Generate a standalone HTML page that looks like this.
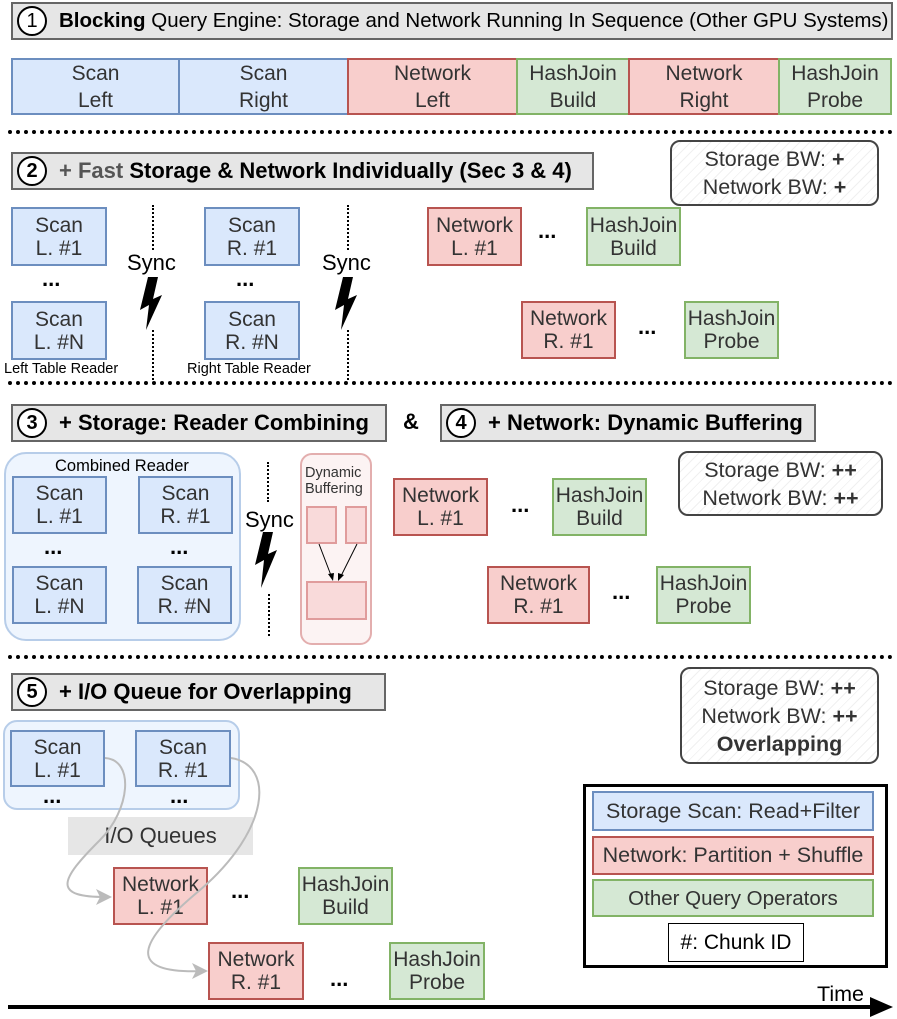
<!DOCTYPE html>
<html><head><meta charset="utf-8"><style>
*{margin:0;padding:0;box-sizing:border-box}
body{width:897px;height:1019px;background:#fff;position:relative;overflow:hidden;font-family:"Liberation Sans",Arial,sans-serif;color:#333}
.b{position:absolute;display:flex;align-items:center;justify-content:center;text-align:center;font-size:21px;line-height:23px;border:2px solid;white-space:nowrap}
.bl{background:#dae8fc;border-color:#6c8ebf}
.rd{background:#f8cecc;border-color:#b85450}
.gr{background:#d5e8d4;border-color:#82b366}
.h{position:absolute;background:#e6e6e6;border:2px solid #666;font-size:22px;font-weight:bold;color:#000;display:flex;align-items:center;padding-left:46px;white-space:nowrap}
.c{position:absolute;left:4px;top:2px;width:30px;height:30px;border:2px solid #000;border-radius:50%;background:#fff;display:flex;align-items:center;justify-content:center;font-size:20px}
.t{position:absolute;white-space:nowrap}
.dots{position:absolute;font-weight:bold;font-size:22px;color:#000}
.hl{position:absolute;left:8px;width:885px;border-top:4px dotted #000}
.sk{position:absolute;border:2px solid #444;border-radius:10px;background:repeating-linear-gradient(135deg,#fff 0 6px,#f0f0f0 6px 7px);font-size:21.5px;line-height:28px;text-align:center;display:flex;flex-direction:column;justify-content:center;white-space:nowrap}
.vd{position:absolute;border-left:2px dotted #000;width:0}
</style></head><body>

<div class="h" style="left:11px;top:2px;width:882px;height:38px;font-weight:normal;font-size:20.5px"><div class="c">1</div><b>Blocking</b>&nbsp;Query Engine: Storage and Network Running In Sequence (Other GPU Systems)</div>

<div class="b bl" style="left:11px;top:58px;width:169px;height:57px;line-height:27px">Scan<br>Left</div>
<div class="b bl" style="left:178px;top:58px;width:171px;height:57px;line-height:27px">Scan<br>Right</div>
<div class="b rd" style="left:347px;top:58px;width:171px;height:57px;line-height:27px">Network<br>Left</div>
<div class="b gr" style="left:516px;top:58px;width:114px;height:57px;line-height:27px">HashJoin<br>Build</div>
<div class="b rd" style="left:628px;top:58px;width:152px;height:57px;line-height:27px">Network<br>Right</div>
<div class="b gr" style="left:778px;top:58px;width:114px;height:57px;line-height:27px">HashJoin<br>Probe</div>

<div class="hl" style="top:130px"></div>

<div class="h" style="left:11px;top:152px;width:583px;height:38px"><div class="c">2</div><span style="color:#555">+ Fast</span>&nbsp;Storage &amp; Network Individually (Sec 3 &amp; 4)</div>
<div class="sk" style="left:670px;top:140px;width:209px;height:66px"><div>Storage BW: <b>+</b></div><div>Network BW: <b>+</b></div></div>

<div class="b bl" style="left:11px;top:207px;width:96px;height:59px">Scan<br>L. #1</div>
<div class="dots" style="left:42px;top:266px">...</div>
<div class="b bl" style="left:11px;top:301px;width:96px;height:59px">Scan<br>L. #N</div>
<div class="t" style="left:4px;top:361px;font-size:14.5px;color:#000">Left Table Reader</div>
<div class="vd" style="left:152px;top:205px;height:45px"></div>
<div class="vd" style="left:152px;top:330px;height:50px"></div>
<div class="t" style="left:127px;top:250px;font-size:22px;color:#000">Sync</div>

<div class="b bl" style="left:204px;top:207px;width:96px;height:59px">Scan<br>R. #1</div>
<div class="dots" style="left:236px;top:266px">...</div>
<div class="b bl" style="left:204px;top:301px;width:96px;height:59px">Scan<br>R. #N</div>
<div class="t" style="left:187px;top:361px;font-size:14.5px;color:#000">Right Table Reader</div>
<div class="vd" style="left:347px;top:205px;height:45px"></div>
<div class="vd" style="left:347px;top:330px;height:50px"></div>
<div class="t" style="left:322px;top:250px;font-size:22px;color:#000">Sync</div>

<div class="b rd" style="left:427px;top:207px;width:95px;height:59px">Network<br>L. #1</div>
<div class="dots" style="left:538px;top:218px">...</div>
<div class="b gr" style="left:586px;top:207px;width:95px;height:59px">HashJoin<br>Build</div>
<div class="b rd" style="left:521px;top:301px;width:95px;height:58px">Network<br>R. #1</div>
<div class="dots" style="left:638px;top:314px">...</div>
<div class="b gr" style="left:684px;top:301px;width:95px;height:58px">HashJoin<br>Probe</div>

<div class="hl" style="top:381px"></div>

<div class="h" style="left:11px;top:404px;width:376px;height:38px"><div class="c">3</div>+ Storage: Reader Combining</div>
<div class="t" style="left:403px;top:409px;font-size:22px;font-weight:bold;color:#000">&amp;</div>
<div class="h" style="left:440px;top:404px;width:376px;height:38px"><div class="c">4</div>+ Network: Dynamic Buffering</div>

<div style="position:absolute;left:4px;top:452px;width:237px;height:189px;background:#eef5fe;border:2px solid #b7cde9;border-radius:22px"></div>
<div class="t" style="left:55px;top:457px;font-size:16.5px;color:#000">Combined Reader</div>
<div class="b bl" style="left:12px;top:476px;width:95px;height:58px">Scan<br>L. #1</div>
<div class="b bl" style="left:138px;top:476px;width:95px;height:58px">Scan<br>R. #1</div>
<div class="dots" style="left:44px;top:534px">...</div>
<div class="dots" style="left:170px;top:534px">...</div>
<div class="b bl" style="left:12px;top:566px;width:95px;height:58px">Scan<br>L. #N</div>
<div class="b bl" style="left:137px;top:566px;width:95px;height:58px">Scan<br>R. #N</div>
<div class="vd" style="left:267px;top:462px;height:40px"></div>
<div class="vd" style="left:268px;top:594px;height:42px"></div>
<div class="t" style="left:245px;top:507px;font-size:22px;color:#000">Sync</div>

<div style="position:absolute;left:300px;top:453px;width:72px;height:192px;background:#fcf3f3;border:2px solid #e3aeae;border-radius:12px"></div>
<div class="t" style="left:305px;top:465px;font-size:14.5px;line-height:16px;color:#333">Dynamic<br>Buffering</div>
<div style="position:absolute;left:306px;top:506px;width:31px;height:38px;background:#f9dada;border:2px solid #e09c9c"></div>
<div style="position:absolute;left:345px;top:506px;width:22px;height:38px;background:#f9dada;border:2px solid #e09c9c"></div>
<div style="position:absolute;left:306px;top:581px;width:61px;height:39px;background:#f9dada;border:2px solid #e09c9c"></div>

<div class="b rd" style="left:393px;top:478px;width:95px;height:58px">Network<br>L. #1</div>
<div class="dots" style="left:511px;top:492px">...</div>
<div class="b gr" style="left:552px;top:478px;width:95px;height:58px">HashJoin<br>Build</div>
<div class="b rd" style="left:487px;top:566px;width:103px;height:58px">Network<br>R. #1</div>
<div class="dots" style="left:612px;top:579px">...</div>
<div class="b gr" style="left:656px;top:566px;width:95px;height:58px">HashJoin<br>Probe</div>
<div class="sk" style="left:678px;top:451px;width:205px;height:65px"><div>Storage BW: <b>++</b></div><div>Network BW: <b>++</b></div></div>

<div class="hl" style="top:655px"></div>

<div class="h" style="left:11px;top:673px;width:375px;height:38px"><div class="c">5</div>+ I/O Queue for Overlapping</div>
<div class="sk" style="left:680px;top:667px;width:199px;height:97px"><div>Storage BW: <b>++</b></div><div>Network BW: <b>++</b></div><div><b>Overlapping</b></div></div>

<div style="position:absolute;left:3px;top:720px;width:237px;height:90px;background:#eef5fe;border:2px solid #b7cde9;border-radius:14px"></div>
<div class="b bl" style="left:10px;top:730px;width:95px;height:57px">Scan<br>L. #1</div>
<div class="b bl" style="left:135px;top:730px;width:96px;height:57px">Scan<br>R. #1</div>
<div class="dots" style="left:43px;top:783px">...</div>
<div class="dots" style="left:170px;top:783px">...</div>
<div style="position:absolute;left:68px;top:817px;width:185px;height:38px;background:#e6e6e6;display:flex;align-items:center;justify-content:center;font-size:22px">I/O Queues</div>

<div class="b rd" style="left:113px;top:867px;width:95px;height:58px">Network<br>L. #1</div>
<div class="dots" style="left:231px;top:878px">...</div>
<div class="b gr" style="left:298px;top:867px;width:95px;height:58px">HashJoin<br>Build</div>
<div class="b rd" style="left:208px;top:942px;width:96px;height:58px">Network<br>R. #1</div>
<div class="dots" style="left:330px;top:966px">...</div>
<div class="b gr" style="left:389px;top:942px;width:96px;height:58px">HashJoin<br>Probe</div>

<div style="position:absolute;left:583px;top:784px;width:305px;height:184px;border:3px solid #000;background:#fff"></div>
<div class="b bl" style="left:592px;top:791px;width:282px;height:40px;font-size:21.5px">Storage Scan: Read+Filter</div>
<div class="b rd" style="left:592px;top:836px;width:282px;height:39px;font-size:21.5px">Network: Partition + Shuffle</div>
<div class="b gr" style="left:592px;top:879px;width:282px;height:38px;font-size:20.5px">Other Query Operators</div>
<div class="b" style="left:668px;top:923px;width:136px;height:39px;border:1px solid #000;background:#fff;color:#000;font-size:21px">#: Chunk ID</div>

<div class="t" style="left:817px;top:982px;font-size:21.5px;color:#000">Time</div>

<svg width="897" height="1019" style="position:absolute;left:0;top:0" xmlns="http://www.w3.org/2000/svg">
<polygon points="148,277 140,310 149,305 146,330 162,295 153,299 158,277" fill="#000"/>
<polygon points="343,277 335,310 344,305 341,330 357,295 348,299 353,277" fill="#000"/>
<polygon points="263,532 255,565 264,560 261,588 277,550 268,554 273,532" fill="#000"/>
<line x1="319" y1="544" x2="332" y2="578" stroke="#000" stroke-width="1"/>
<polygon points="333,581 328,574 334,573" fill="#000"/>
<line x1="357" y1="544" x2="340" y2="578" stroke="#000" stroke-width="1"/>
<polygon points="338,581 338,573 344,575" fill="#000"/>
<path d="M105,758 C135,760 130,810 100,840 C60,880 50,898 110,897" fill="none" stroke="#bbb" stroke-width="2"/>
<polygon points="112,897 96,889 100,897 96,905" fill="#bbb"/>
<path d="M231,758 C275,765 270,830 200,890 C140,940 120,975 206,971" fill="none" stroke="#bbb" stroke-width="2"/>
<polygon points="208,971 192,963 196,971 192,979" fill="#bbb"/>
<line x1="8" y1="1007" x2="878" y2="1007" stroke="#000" stroke-width="4"/>
<polygon points="893,1007 870,997 870,1017" fill="#000"/>
</svg>
</body></html>
